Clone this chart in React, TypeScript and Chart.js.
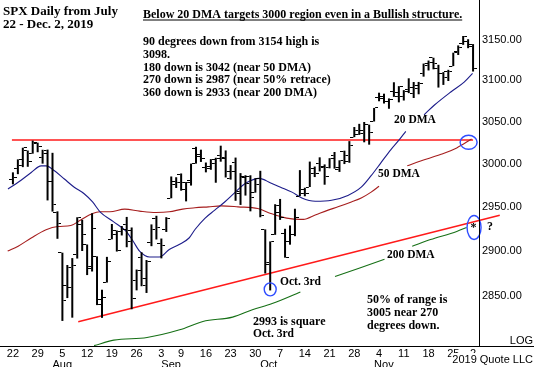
import { useEffect, useRef } from 'react';
import { Chart, registerables } from 'chart.js';

Chart.register(...registerables);

// Trading days: Jul 22 2019 .. Dec 2 2019 (index = trading-day number)
const opens = [
  2981.9, 2994.7, 2998.8, 3016.3, 3013.3, 3024.5, 3007.7, 3016.2, 2980.3, 2943.9,
  2898.1, 2861.2, 2858.7, 2896.2, 2930.5, 2907.1, 2880.7, 2894.2, 2846.2, 2864.7,
  2913.5, 2919.0, 2922.0, 2930.9, 2911.1, 2866.7, 2893.1, 2861.3, 2910.4, 2937.1,
  2909.0, 2924.7, 2960.6, 2980.3, 2988.4, 2971.0, 2981.4, 3018.2, 3012.2, 2996.4,
  2995.7, 3001.5, 3010.4, 3008.4, 2983.5, 3002.4, 2968.4, 2985.7, 2985.5, 2967.1,
  2983.7, 2924.8, 2885.4, 2918.6, 2944.2, 2920.4, 2911.1, 2918.6, 2963.1, 2965.8,
  2973.6, 2989.7, 3000.8, 2996.8, 2996.5, 3010.7, 2994.0, 3014.8, 3003.3, 3032.1,
  3035.4, 3039.7, 3046.9, 3050.7, 3079.0, 3080.8, 3075.1, 3087.0, 3081.2, 3080.3,
  3089.3, 3084.2, 3090.8, 3107.9, 3117.9, 3127.5, 3114.7, 3108.5, 3111.4, 3117.4,
  3134.9, 3145.5, 3147.2, 3143.9,
];
const highs = [
  2990.7, 3005.9, 3019.6, 3016.3, 3028.0, 3025.6, 3017.2, 3017.4, 3013.6, 2945.5,
  2898.3, 2884.4, 2892.2, 2938.7, 2935.8, 2907.6, 2943.3, 2894.2, 2856.7, 2893.6,
  2931.0, 2923.6, 2928.7, 2939.1, 2927.0, 2879.3, 2898.8, 2890.0, 2930.5, 2940.4,
  2914.4, 2938.8, 2985.9, 2985.0, 2989.4, 2979.4, 3000.9, 3020.7, 3017.3, 3002.2,
  3006.2, 3007.8, 3022.0, 3016.4, 2999.2, 3008.0, 2989.8, 2987.3, 2987.3, 2983.8,
  2992.5, 2924.8, 2911.1, 2953.7, 2959.8, 2925.5, 2929.3, 2948.5, 2993.3, 2972.8,
  3003.3, 2997.5, 3008.3, 3000.0, 3007.3, 3014.6, 3004.8, 3016.1, 3027.4, 3044.1,
  3047.9, 3050.1, 3046.9, 3066.9, 3085.2, 3084.0, 3078.3, 3097.8, 3093.1, 3088.3,
  3102.6, 3098.1, 3098.2, 3120.5, 3124.2, 3127.6, 3119.0, 3110.1, 3112.9, 3133.8,
  3142.7, 3154.3, 3150.3, 3144.3,
];
const lows = [
  2976.7, 2988.6, 2996.8, 2997.2, 3012.6, 3014.3, 3000.9, 2958.1, 2945.2, 2914.1,
  2822.1, 2847.4, 2825.7, 2891.7, 2900.2, 2873.1, 2877.1, 2839.6, 2825.5, 2864.7,
  2913.5, 2899.6, 2917.9, 2904.5, 2835.0, 2856.0, 2860.6, 2853.1, 2905.7, 2913.3,
  2891.9, 2921.9, 2960.6, 2972.5, 2969.4, 2957.0, 2975.3, 3000.9, 3002.9, 2990.7,
  2993.7, 2978.6, 3003.2, 2984.7, 2982.2, 2957.7, 2952.9, 2963.7, 2945.5, 2967.1,
  2938.7, 2874.9, 2855.9, 2918.6, 2935.7, 2892.7, 2907.4, 2917.1, 2963.1, 2962.9,
  2973.6, 2985.2, 2991.8, 2976.3, 2995.4, 2995.0, 2991.2, 3000.4, 3001.9, 3032.1,
  3034.8, 3026.0, 3023.2, 3050.7, 3074.9, 3072.2, 3065.9, 3080.2, 3073.6, 3075.8,
  3084.7, 3078.8, 3083.3, 3104.6, 3112.1, 3113.5, 3091.4, 3094.6, 3099.3, 3117.4,
  3131.0, 3143.4, 3139.3, 3110.8,
];
const closes = [
  2985.0, 3005.5, 3019.6, 3003.7, 3025.9, 3021.0, 3013.2, 2980.4, 2953.6, 2932.1,
  2844.7, 2881.8, 2884.0, 2938.1, 2918.7, 2882.7, 2926.3, 2840.6, 2847.6, 2888.7,
  2923.7, 2900.5, 2924.4, 2923.0, 2847.1, 2878.4, 2869.2, 2887.9, 2924.6, 2926.5,
  2906.3, 2937.8, 2976.0, 2978.7, 2978.4, 2979.4, 3000.9, 3009.6, 3007.4, 2998.0,
  3005.7, 3006.7, 3006.8, 2992.1, 2991.8, 2966.6, 2984.9, 2977.6, 2961.8, 2976.7,
  2940.3, 2887.6, 2910.6, 2952.0, 2938.8, 2893.1, 2919.4, 2938.1, 2970.3, 2966.2,
  2995.7, 2989.7, 2998.0, 2986.2, 3006.7, 2996.0, 3004.5, 3010.3, 3022.6, 3039.4,
  3036.9, 3046.8, 3037.6, 3066.9, 3078.3, 3074.6, 3076.8, 3085.2, 3093.1, 3087.0,
  3091.8, 3094.0, 3096.6, 3120.5, 3122.0, 3120.2, 3108.5, 3103.5, 3110.3, 3133.6,
  3140.5, 3153.6, 3141.0, 3113.9,
];

// Moving averages (x = trading-day index, null = break in the line)
const ma20X = [-1, 1.06, 3.7, 5.7, 6.7, 8.4, 10.4, 12.4, 14.4, 16.1, 17.6, 20.3, 22.9, 24.3, 25.6, 27.6, 29.6, 31.6, 33.6, 35.6, 36.8, 38.8, 40.8, 42.8, 44.8, 46.8, 49.8, 52.1, 54.1, 56.4, 58.4, 61.1, 64.4, 67.7, 70.4, 72.4, 74.4, 76.4, 78.1, 79.4, 81, 83.1, 85.2, 88.5, 91.2, 92.9];
const ma20Y = [2971.4, 2979.1, 2990.5, 2998.3, 2998.3, 2992.5, 2982.9, 2973.4, 2965.8, 2956.3, 2945.0, 2933.7, 2922.5, 2911.3, 2900.1, 2893.5, 2893.5, 2902.0, 2907.6, 2915.0, 2924.7, 2937.5, 2946.9, 2956.3, 2966.9, 2977.2, 2983.7, 2978.3, 2973.4, 2967.7, 2960.9, 2957.1, 2958.2, 2963.9, 2973.4, 2986.8, 3002.1, 3017.4, 3029.1, 3038.9, null, 3058.7, 3070.4, 3086.1, 3098.0, 3108.6];
const ma50X = [-1.06, 1.06, 3.7, 6.7, 9.1, 11.7, 13.7, 16.1, 17.6, 19.6, 22.6, 25.6, 28.9, 31.6, 34.3, 36.8, 39.5, 42.1, 45.5, 49.5, 52.1, 54.1, 56.4, 58.7, 61.1, 63.7, 65.7, 68.4, 70.4, 72.4, 74, 77, 79.7, 82.4, 86.4, 89.7, 92.7];
const ma50Y = [2900.1, 2905.7, 2915.0, 2924.4, 2928.1, 2929.2, 2935.6, 2943.1, 2945.0, 2945.0, 2948.1, 2945.8, 2944.2, 2945.0, 2948.1, 2949.6, 2950.7, 2951.8, 2950.7, 2948.8, 2943.1, 2939.4, 2936.8, 2936.3, 2941.3, 2946.9, 2950.7, 2956.3, 2960.9, 2967.7, 2974.5, null, 2998.3, 3004.0, 3011.6, 3019.4, 3029.9];
const ma200X = [16.4, 20.4, 27.1, 33.7, 38.4, 44.4, 48.4, 52.4, 58.1, 62, 65.1, 75.1, 78, 80.7, 84.4, 89.7, 91.7];
const ma200Y = [2795, 2801.0, 2803.9, 2812.3, 2821.5, 2826.3, 2834.4, 2841.3, 2854.2, null, 2871.4, 2890.9, null, 2905.7, 2913.2, 2922.5, 2927.0];

// Drawn lines (trading-day index, price)
const resistX = [-0.2, 93];
const resistY = [3028.7, 3028.7];
const trendX = [13.2, 98.4];
const trendY = [2821.2, 2941.0];

// Axis ticks
const tickIdx = [0, 5, 10, 15, 20, 25, 30, 34, 39, 44, 49, 54, 59, 64, 69, 74, 79, 84, 89, 93];
const tickLabels = ['22', '29', '5', '12', '19', '26', '3', '9', '16', '23', '30', '7', '14', '21', '28', '4', '11', '18', '25', '2'];
const monthIdx = [8, 30, 50, 73];
const monthLabels = ['Aug', 'Sep', 'Oct', 'Nov'];
const yTicks = [2850, 2900, 2950, 3000, 3050, 3100, 3150];

// Circles (trading-day index, price), radii in px
const circles = [
  { x: 92.1, y: 3026, rx: 8.5, ry: 7 },
  { x: 52, y: 2857.1, rx: 6, ry: 6.5 },
  { x: 93.2, y: 2927, rx: 7, ry: 12 },
];

const SERIF = '"Liberation Serif", "Times New Roman", serif';
const SANS = '"Liberation Sans", Arial, sans-serif';

const notes = [
  { t: 'SPX Daily from July', x: 3, y: 12, s: 13 },
  { t: '22 - Dec. 2, 2019', x: 3, y: 25, s: 13 },
  { t: 'Below 20 DMA targets 3000 region even in a Bullish structure.', x: 143, y: 15, s: 12, u: true },
  { t: '90 degrees down from 3154 high is', x: 143, y: 41.7, s: 12 },
  { t: '3098.', x: 143, y: 54.6, s: 12 },
  { t: '180 down is 3042 (near 50 DMA)', x: 143, y: 67.5, s: 12 },
  { t: '270 down is 2987 (near 50% retrace)', x: 143, y: 80.4, s: 12 },
  { t: '360 down is 2933 (near 200 DMA)', x: 143, y: 93.3, s: 12 },
  { t: '20 DMA', x: 394, y: 120, s: 11.5 },
  { t: '50 DMA', x: 378, y: 174, s: 11.5 },
  { t: '200 DMA', x: 387, y: 255, s: 11.5 },
  { t: 'Oct. 3rd', x: 280, y: 282, s: 11.5 },
  { t: '2993 is square', x: 253, y: 322, s: 12 },
  { t: 'Oct. 3rd', x: 253, y: 334.5, s: 11.5 },
  { t: '50% of range is', x: 367, y: 300, s: 12 },
  { t: '3005 near 270', x: 367, y: 312.7, s: 12 },
  { t: 'degrees down.', x: 367, y: 325.5, s: 12 },
  { t: '*', x: 470.5, y: 228, s: 12 },
  { t: '?', x: 487, y: 227, s: 12 },
];

function tickImage(side: 'left' | 'right') {
  const c = document.createElement('canvas');
  c.width = 8;
  c.height = 1;
  const g = c.getContext('2d')!;
  g.fillStyle = '#000';
  g.fillRect(side === 'left' ? 0 : 5, 0, 3, 1);
  return c;
}

const pts = (xs: number[], ys: (number | null)[]) => xs.map((x, i) => ({ x, y: ys[i] }));

export default function App() {
  const ref = useRef<HTMLCanvasElement | null>(null);

  useEffect(() => {
    if (!ref.current) return;
    const leftImg = tickImage('left');
    const rightImg = tickImage('right');

    const overlay = {
      id: 'overlay',
      afterDatasetsDraw(chart: any) {
        const { ctx, scales } = chart;
        ctx.save();
        ctx.strokeStyle = '#2f4dff';
        ctx.lineWidth = 1.4;
        for (const c of circles) {
          ctx.beginPath();
          ctx.ellipse(scales.x.getPixelForValue(c.x), scales.y.getPixelForValue(c.y), c.rx, c.ry, 0, 0, Math.PI * 2);
          ctx.stroke();
        }
        ctx.restore();
      },
      afterDraw(chart: any) {
        const { ctx, chartArea, scales, width } = chart;
        ctx.save();
        ctx.fillStyle = '#000';
        ctx.fillRect(0, chartArea.bottom, width, 1);
        ctx.fillRect(chartArea.right, 0, 1, chartArea.bottom);

        ctx.textBaseline = 'middle';
        ctx.textAlign = 'left';
        ctx.font = `11px ${SANS}`;
        monthIdx.forEach((m, i) => {
          ctx.fillText(monthLabels[i], scales.x.getPixelForValue(m), 364.5);
        });

        for (const n of notes) {
          ctx.font = `bold ${n.s}px ${SERIF}`;
          ctx.fillText(n.t, n.x, n.y);
          if (n.u) {
            const w = ctx.measureText(n.t).width;
            ctx.fillRect(n.x, n.y + 4.5, w, 1);
          }
        }

        ctx.font = `11px ${SANS}`;
        ctx.textAlign = 'right';
        ctx.fillText('LOG', 533, 341);
        const q = '2019 Quote LLC';
        const qw = ctx.measureText(q).width;
        ctx.fillStyle = '#fff';
        ctx.fillRect(533 - qw - 1, 353, qw + 2, 14);
        ctx.fillStyle = '#000';
        ctx.fillText(q, 533, 359.5);
        ctx.restore();
      },
    };

    const line = (data: any[], color: string, extra: any = {}) => ({
      type: 'line',
      data,
      borderColor: color,
      borderWidth: 1.1,
      pointRadius: 0,
      fill: false,
      spanGaps: false,
      cubicInterpolationMode: 'monotone',
      ...extra,
    });

    const chart = new Chart(ref.current, {
      type: 'bar',
      data: {
        datasets: [
          {
            type: 'bar',
            data: highs.map((h, i) => ({ x: i, y: [lows[i], h] })),
            backgroundColor: '#000',
            borderWidth: 0,
            barThickness: 2,
            inflateAmount: 0,
          } as any,
          {
            type: 'scatter',
            data: opens.map((v, i) => ({ x: i, y: v })),
            pointStyle: leftImg,
            pointRadius: 1,
          } as any,
          {
            type: 'scatter',
            data: closes.map((v, i) => ({ x: i, y: v })),
            pointStyle: rightImg,
            pointRadius: 1,
          } as any,
          line(pts(ma20X, ma20Y), '#1c1c8a') as any,
          line(pts(ma50X, ma50Y), '#a61e1e') as any,
          line(pts(ma200X, ma200Y), '#167016') as any,
          line(pts(resistX, resistY), '#ff1a1a', { borderWidth: 1.3, cubicInterpolationMode: 'default', tension: 0 }) as any,
          line(pts(trendX, trendY), '#ff1a1a', { borderWidth: 1.5, cubicInterpolationMode: 'default', tension: 0, clip: false }) as any,
        ],
      },
      options: {
        responsive: false,
        animation: false,
        events: [],
        layout: { padding: 0 },
        plugins: { legend: { display: false }, tooltip: { enabled: false } },
        scales: {
          x: {
            type: 'linear',
            min: -1.6,
            max: 94.2,
            bounds: 'data',
            offset: false,
            grid: { display: false, drawTicks: false },
            border: { display: false },
            ticks: {
              autoSkip: false,
              maxRotation: 0,
              padding: 1.5,
              color: '#000',
              font: { family: SANS, size: 11 },
              callback: (_v: any, i: number) => tickLabels[i] ?? '',
            },
            afterBuildTicks: (s: any) => {
              s.ticks = tickIdx.map((v) => ({ value: v }));
            },
            afterFit: (s: any) => {
              s.height = 21;
              s.paddingLeft = 0;
              s.paddingRight = 0;
            },
          },
          y: {
            type: 'logarithmic',
            position: 'right',
            min: 2794.6,
            max: 3192.7,
            bounds: 'data',
            grid: { display: false, drawTicks: false },
            border: { display: false },
            ticks: {
              autoSkip: false,
              padding: 3,
              color: '#000',
              font: { family: SANS, size: 11 },
              callback: (v: any) => Number(v).toFixed(2),
            },
            afterBuildTicks: (s: any) => {
              s.ticks = yTicks.map((v) => ({ value: v }));
            },
            afterFit: (s: any) => {
              s.width = 55;
              s.paddingTop = 0;
              s.paddingBottom = 0;
            },
          },
        },
      } as any,
      plugins: [overlay],
    });

    return () => chart.destroy();
  }, []);

  return (
    <div style={{ position: 'fixed', left: 0, top: 0, width: 534, height: 367, background: '#fff' }}>
      <canvas ref={ref} width={534} height={367} style={{ display: 'block' }} />
    </div>
  );
}
